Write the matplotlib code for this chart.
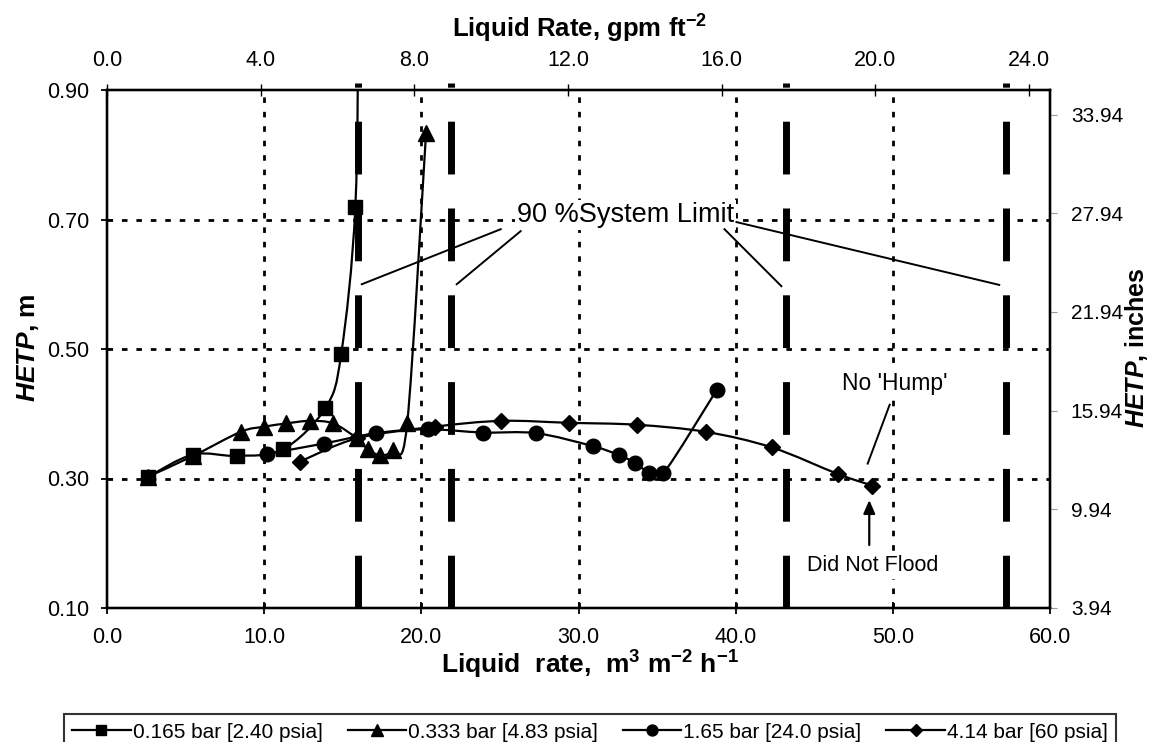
import numpy as np
import matplotlib
matplotlib.use('Agg')
import matplotlib.pyplot as plt
from matplotlib.path import Path
from matplotlib.patches import PathPatch
from matplotlib.lines import Line2D

# HETP vs liquid rate, four column pressures
sq_x = [2.63, 5.49, 8.28, 11.2, 13.9, 14.9, 15.8, 16.0]
sq_y = [0.303, 0.337, 0.335, 0.345, 0.409, 0.492, 0.719, 1.05]

tri_x = [2.63, 5.49, 8.5, 10.0, 11.4, 12.9, 14.4, 15.9, 16.6, 17.4, 18.2, 19.1, 20.3]
tri_y = [0.303, 0.335, 0.372, 0.380, 0.385, 0.389, 0.385, 0.362, 0.345, 0.336, 0.344, 0.385, 0.834]

circ_x = [10.15, 13.8, 17.1, 20.4, 23.9, 27.3, 30.9, 32.6, 33.6, 34.5, 35.4, 38.8]
circ_y = [0.338, 0.354, 0.370, 0.376, 0.371, 0.370, 0.350, 0.336, 0.324, 0.309, 0.308, 0.437]

dia_x = [12.27, 15.9, 20.85, 25.1, 29.4, 33.7, 38.1, 42.3, 46.5, 48.7]
dia_y = [0.326, 0.362, 0.380, 0.389, 0.386, 0.383, 0.372, 0.348, 0.307, 0.289]

series_labels = ['0.165 bar [2.40 psia]', '0.333 bar [4.83 psia]',
                 '1.65 bar [24.0 psia]', '4.14 bar [60 psia]']

# 90 % system limit (flood) lines
limit_x = [15.96, 21.9, 43.2, 57.2]

x_ticks = [0, 10, 20, 30, 40, 50, 60]
y_ticks = [0.10, 0.30, 0.50, 0.70, 0.90]
gpm_ticks = [0.0, 4.0, 8.0, 12.0, 16.0, 20.0, 24.0]
inch_ticks = [3.94, 9.94, 15.94, 21.94, 27.94, 33.94]

M3H_PER_GPM = 2.44475
INCH_PER_M = 39.37

plt.rcParams['font.family'] = ['Liberation Sans', 'DejaVu Sans']
plt.rcParams['mathtext.fontset'] = 'custom'
plt.rcParams['mathtext.rm'] = 'Liberation Sans'
plt.rcParams['mathtext.it'] = 'Liberation Sans:italic'
plt.rcParams['mathtext.bf'] = 'Liberation Sans:bold'
plt.rcParams['mathtext.bfit'] = 'Liberation Sans:italic:bold'

WHITE_BOX = dict(facecolor='white', edgecolor='none', pad=1.5)


def smooth_path(x, y):
    # Excel-like smoothed line (Catmull-Rom as cubic Bezier)
    pts = np.column_stack([x, y])
    n = len(pts)
    verts = [pts[0]]
    codes = [Path.MOVETO]
    for i in range(n - 1):
        p0 = pts[i - 1] if i > 0 else pts[i]
        p1 = pts[i]
        p2 = pts[i + 1]
        p3 = pts[i + 2] if i + 2 < n else pts[i + 1]
        verts += [p1 + (p2 - p0) / 6.0, p2 - (p3 - p1) / 6.0, p2]
        codes += [Path.CURVE4] * 3
    return Path(verts, codes)


def draw_series(ax, x, y, marker, ms, label):
    ax.add_patch(PathPatch(smooth_path(x, y), fill=False, edgecolor='black', lw=1.6, zorder=4))
    ax.plot(x, y, ls='none', marker=marker, ms=ms, color='black', zorder=5)
    return Line2D([], [], color='black', lw=1.6, marker=marker, ms=ms * 0.75, label=label)


def main():
    fig = plt.figure(figsize=(11.52, 7.42), dpi=100)
    ax = fig.add_axes([107 / 1152, 1 - 608 / 742, 943 / 1152, 518 / 742])
    ax.set_xlim(0, 60)
    ax.set_ylim(0.1, 0.9)

    # grid
    for gx in x_ticks[1:-1]:
        ax.plot([gx, gx], [0.1, 0.9], color='black', lw=2.0, dashes=(2.0, 3.2), zorder=1)
    for gy in y_ticks[1:-1]:
        ax.plot([0, 60], [gy, gy], color='black', lw=2.0, dashes=(2.0, 3.2), zorder=1)

    # system limit lines
    for lx in limit_x:
        ax.plot([lx, lx], [0.1, 0.911], color='black', lw=5.0, dashes=(7.6, 4.9),
                solid_capstyle='butt', dash_capstyle='butt', clip_on=False, zorder=3)

    handles = [
        draw_series(ax, sq_x, sq_y, 's', 10.5, series_labels[0]),
        draw_series(ax, tri_x, tri_y, '^', 11, series_labels[1]),
        draw_series(ax, circ_x, circ_y, 'o', 10.5, series_labels[2]),
        draw_series(ax, dia_x, dia_y, 'D', 8, series_labels[3]),
    ]

    for s in ax.spines.values():
        s.set_linewidth(1.6)
    ax.set_xticks(x_ticks)
    ax.set_xticklabels(['{:.1f}'.format(v) for v in x_ticks])
    ax.set_yticks(y_ticks)
    ax.set_yticklabels(['{:.2f}'.format(v) for v in y_ticks])
    ax.tick_params(direction='inout', length=9, width=1.3, labelsize=15.5)
    ax.tick_params(axis='y', pad=8)
    ax.tick_params(axis='x', pad=9)

    # secondary axes
    ax_r = ax.twinx()
    ax_r.set_ylim(0.1, 0.9)
    ax_r.set_yticks([v / INCH_PER_M for v in inch_ticks])
    ax_r.set_yticklabels(['{:.2f}'.format(v) for v in inch_ticks])
    ax_r.tick_params(direction='out', length=5, width=0.8, color='0.6', labelsize=15, pad=10)

    ax_t = ax.twiny()
    ax_t.set_xlim(0, 60)
    ax_t.set_xticks([v * M3H_PER_GPM for v in gpm_ticks])
    ax_t.set_xticklabels(['{:.1f}'.format(v) for v in gpm_ticks])
    ax_t.tick_params(direction='inout', length=8, width=1.0, labelsize=15.5, pad=10)
    for a in (ax_r, ax_t):
        for s in a.spines.values():
            s.set_linewidth(1.6)

    # axis titles
    fig.text(590 / 1152, 1 - 665 / 742, r'Liquid  rate,  m$^{\mathbf{3}}$ m$^{\mathbf{-2}}$ h$^{\mathbf{-1}}$',
             ha='center', va='center', fontsize=19, fontweight='bold')
    fig.text(580 / 1152, 1 - 29 / 742, r'Liquid Rate, gpm ft$^{\mathbf{-2}}$',
             ha='center', va='center', fontsize=18.5, fontweight='bold')
    fig.text(28 / 1152, 1 - 348 / 742, r'$\mathbfit{HETP}$, m', rotation=90,
             ha='center', va='center', fontsize=19, fontweight='bold')
    fig.text(1137 / 1152, 1 - 348 / 742, r'$\mathbfit{HETP}$, inches', rotation=90,
             ha='center', va='center', fontsize=18, fontweight='bold')

    # annotations
    ax.text(33.0, 0.696, '90 %System Limit', ha='center', va='baseline', fontsize=19.5,
            bbox=WHITE_BOX, zorder=6)
    for (x0, y0), (x1, y1) in [((25.05, 0.685), (16.21, 0.600)), ((26.32, 0.682), (22.25, 0.600)),
                               ((39.29, 0.685), (42.91, 0.597)), ((40.05, 0.696), (56.77, 0.599))]:
        ax.plot([x0, x1], [y0, y1], color='black', lw=1.4, zorder=6)

    ax.text(50.1, 0.446, "No 'Hump'", ha='center', va='center', fontsize=16.5,
            bbox=WHITE_BOX, zorder=6)
    ax.plot([49.8, 48.4], [0.414, 0.323], color='black', lw=1.4, zorder=6)
    ax.text(48.7, 0.165, 'Did Not Flood', ha='center', va='center', fontsize=15.5,
            bbox=WHITE_BOX, zorder=6)
    ax.annotate('', xy=(48.5, 0.271), xytext=(48.5, 0.193),
                arrowprops=dict(arrowstyle='-|>,head_length=0.8,head_width=0.35', color='black', lw=1.6),
                zorder=6)

    leg = fig.legend(handles=handles, loc='upper center', bbox_to_anchor=(590 / 1152, 1 - 704 / 742),
                     ncol=4, fontsize=15, frameon=True, fancybox=False, edgecolor='black',
                     handlelength=2.8, handletextpad=0.1, columnspacing=1.2, borderpad=0.4)
    leg.get_frame().set_linewidth(1.5)

    plt.savefig('out.png', dpi=100)


if __name__ == "__main__":
    main()
